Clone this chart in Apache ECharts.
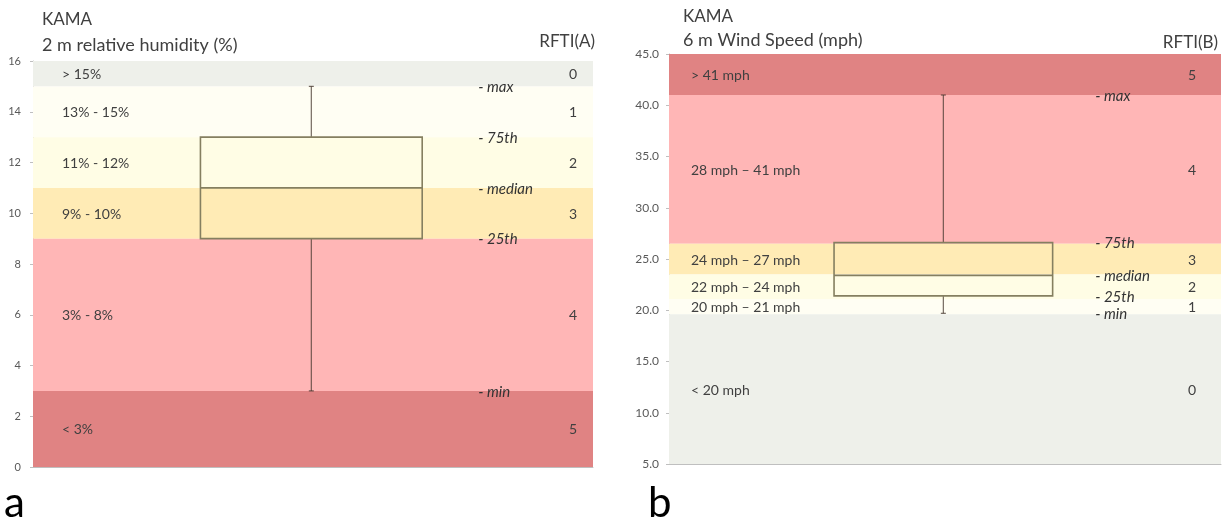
<!DOCTYPE html>
<html>
<head>
<meta charset="utf-8">
<script src="https://cdn.jsdelivr.net/npm/echarts@6/dist/echarts.min.js"></script>
<style>html,body{margin:0;padding:0;background:#fff;}#c{width:1225px;height:523px;}</style>
</head>
<body>
<div id="c"></div>
<script>
// ---- data: (a) 2 m relative humidity (%) ----
const rhBandLow   = [15, 13, 11, 9, 3, 0];
const rhBandHigh  = [16, 15, 13, 11, 9, 3];
const rhBandNames = ['> 15%', '13% - 15%', '11% - 12%', '9% - 10%', '3% - 8%', '< 3%'];
const rhRfti      = ['0', '1', '2', '3', '4', '5'];
const rhBox       = [3, 9, 11, 13, 15]; // min, 25th, median, 75th, max

// ---- data: (b) 6 m wind speed (mph) ----
const wsBandLow   = [41, 26.5, 23.5, 21.1, 19.6, 5];
const wsBandHigh  = [45, 41, 26.5, 23.5, 21.1, 19.6];
const wsBandNames = ['> 41 mph', '28 mph \u2013 41 mph', '24 mph \u2013 27 mph', '22 mph \u2013 24 mph', '20 mph \u2013 21 mph', '< 20 mph'];
const wsRfti      = ['5', '4', '3', '2', '1', '0'];
const wsBox       = [19.7, 21.4, 23.4, 26.6, 41];

const statNames = ['- min', '- 25th', '- median', '- 75th', '- max'];

// ---- styles ----
const C = {gray:'#eef0ea', vlight:'#fffef3', light:'#fffde5', orange:'#ffebb5', pink:'#ffb6b6', red:'#e08383'};
const rhColors = [C.gray, C.vlight, C.light, C.orange, C.pink, C.red];
const wsColors = [C.red, C.pink, C.orange, C.light, C.vlight, C.gray];
const FONT = 'Lato, "Open Sans", sans-serif';
const TXT = '#404040';

function bandData(lo, hi) { return lo.map((v, i) => [v, hi[i], i]); }

function bandSeries(idx, lo, hi, names, rfti, colors, nameOff, rftiOff) {
  return {
    type: 'custom', xAxisIndex: idx, yAxisIndex: idx, silent: true, z: 1,
    data: bandData(lo, hi),
    renderItem: function (params, api) {
      const i = api.value(2);
      const p1 = api.coord([0, api.value(1)]);
      const p2 = api.coord([1, api.value(0)]);
      const cy = (p1[1] + p2[1]) / 2 + 1;
      return {
        type: 'group',
        children: [
          {type: 'rect', shape: {x: p1[0], y: p1[1], width: p2[0] - p1[0], height: p2[1] - p1[1]},
           style: {fill: colors[i]}},
          {type: 'text', x: p1[0] + nameOff, y: cy,
           style: {text: names[i], fill: TXT, font: '14px ' + FONT, textAlign: 'left', textVerticalAlign: 'middle'}},
          {type: 'text', x: p2[0] - rftiOff, y: cy,
           style: {text: rfti[i], fill: TXT, font: '14px ' + FONT, textAlign: 'center', textVerticalAlign: 'middle'}}
        ]
      };
    }
  };
}

function boxSeries(idx, box, labelX) {
  return {
    type: 'custom', xAxisIndex: idx, yAxisIndex: idx, silent: true, z: 5,
    data: [[0.497].concat(box)],
    renderItem: function (params, api) {
      const xc = api.value(0);
      const vmin = api.value(1), q1 = api.value(2), med = api.value(3), q3 = api.value(4), vmax = api.value(5);
      const L = api.coord([xc - 0.198, q3]);
      const R = api.coord([xc + 0.198, q1]);
      const cx = api.coord([xc, med])[0];
      const yMin = api.coord([xc, vmin])[1], yMax = api.coord([xc, vmax])[1];
      const yMed = api.coord([xc, med])[1];
      const lineStyle = {stroke: 'rgba(70,55,45,0.75)', lineWidth: 1.2};
      const boxStyle = {stroke: '#857f60', lineWidth: 1.6, fill: 'rgba(0,0,0,0)'};
      const lx = api.coord([labelX, med])[0];
      const vals = [vmin, q1, med, q3, vmax];
      const children = [
        {type: 'line', shape: {x1: cx, y1: L[1], x2: cx, y2: yMax}, style: lineStyle},
        {type: 'line', shape: {x1: cx, y1: R[1], x2: cx, y2: yMin}, style: lineStyle},
        {type: 'line', shape: {x1: cx - 2.5, y1: yMax, x2: cx + 2.5, y2: yMax}, style: lineStyle},
        {type: 'line', shape: {x1: cx - 2.5, y1: yMin, x2: cx + 2.5, y2: yMin}, style: lineStyle},
        {type: 'rect', shape: {x: L[0], y: L[1], width: R[0] - L[0], height: R[1] - L[1]}, style: boxStyle},
        {type: 'line', shape: {x1: L[0], y1: yMed, x2: R[0], y2: yMed}, style: {stroke: '#857f60', lineWidth: 1.6}}
      ];
      vals.forEach(function (v, k) {
        children.push({type: 'text', x: lx, y: api.coord([xc, v])[1] + 1,
          style: {text: statNames[k], fill: '#333', font: 'italic 15px ' + FONT, textAlign: 'left', textVerticalAlign: 'middle'}});
      });
      return {type: 'group', children: children};
    }
  };
}

const axisLineStyle = {lineStyle: {color: '#bfbfbf', width: 1}};

const option = {
  animation: false,
  backgroundColor: '#fff',
  grid: [
    {left: 33, top: 61, width: 560, height: 406},
    {left: 669, top: 54, width: 552, height: 410}
  ],
  xAxis: [
    {gridIndex: 0, type: 'value', min: 0, max: 1, axisLine: {show: true, ...axisLineStyle}, axisTick: {show: false}, axisLabel: {show: false}, splitLine: {show: false}},
    {gridIndex: 1, type: 'value', min: 0, max: 1, axisLine: {show: true, ...axisLineStyle}, axisTick: {show: false}, axisLabel: {show: false}, splitLine: {show: false}}
  ],
  yAxis: [
    {gridIndex: 0, type: 'value', min: 0, max: 16, interval: 2,
     axisLine: {show: true, ...axisLineStyle}, axisTick: {show: true, length: 3, lineStyle: {color: '#bfbfbf'}},
     axisLabel: {color: '#595959', fontSize: 11, fontFamily: FONT, margin: 12}, splitLine: {show: false}},
    {gridIndex: 1, type: 'value', min: 5, max: 45, interval: 5,
     axisLine: {show: true, ...axisLineStyle}, axisTick: {show: true, length: 3, lineStyle: {color: '#bfbfbf'}},
     axisLabel: {color: '#595959', fontSize: 12, fontFamily: FONT, margin: 10, formatter: v => v.toFixed(1)}, splitLine: {show: false}}
  ],
  series: [
    bandSeries(0, rhBandLow, rhBandHigh, rhBandNames, rhRfti, rhColors, 29, 20),
    boxSeries(0, rhBox, 0.795),
    bandSeries(1, wsBandLow, wsBandHigh, wsBandNames, wsRfti, wsColors, 22, 29),
    boxSeries(1, wsBox, 0.772)
  ],
  graphic: [
    {type: 'text', left: 42, top: 11, style: {text: 'KAMA', fill: TXT, font: '17px ' + FONT}},
    {type: 'text', left: 42, top: 36, style: {text: '2 m relative humidity (%)', fill: TXT, font: '18px ' + FONT}},
    {type: 'text', right: 630, top: 33, style: {text: 'RFTI(A)', fill: TXT, font: '17px ' + FONT}},
    {type: 'text', left: 683, top: 8, style: {text: 'KAMA', fill: TXT, font: '17px ' + FONT}},
    {type: 'text', left: 683, top: 31, style: {text: '6 m Wind Speed (mph)', fill: TXT, font: '18px ' + FONT}},
    {type: 'text', right: 7, top: 34, style: {text: 'RFTI(B)', fill: TXT, font: '17px ' + FONT}},
    {type: 'text', left: 4, top: 482, style: {text: 'a', fill: '#000', font: '42px ' + FONT}},
    {type: 'text', left: 648, top: 482, style: {text: 'b', fill: '#000', font: '42px ' + FONT}}
  ]
};

const chart = echarts.init(document.getElementById('c'), null, {renderer: 'canvas'});
chart.setOption(option);
</script>
</body>
</html>
